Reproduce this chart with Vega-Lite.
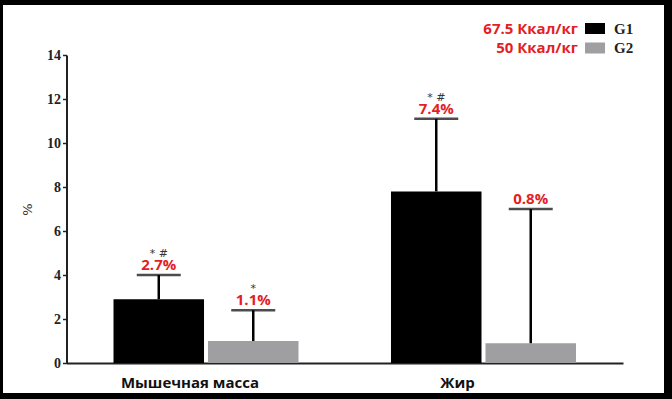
{
  "$schema": "https://vega.github.io/schema/vega-lite/v6.json",
  "width": 661,
  "height": 388,
  "autosize": {"type": "none"},
  "padding": {"left": 3, "top": 5, "right": 8, "bottom": 6},
  "background": "#000000",
  "config": {"view": {"fill": "#ffffff", "stroke": null}},
  "data": {"values": [
    {"cat": "Мышечная масса", "group": "G1", "diet": "67.5 Ккал/кг", "value": 2.9, "upper": 4.0, "label": "2.7%", "sig": "* #"},
    {"cat": "Мышечная масса", "group": "G2", "diet": "50 Ккал/кг", "value": 1.0, "upper": 2.4, "label": "1.1%", "sig": "*"},
    {"cat": "Жир", "group": "G1", "diet": "67.5 Ккал/кг", "value": 7.8, "upper": 11.1, "label": "7.4%", "sig": "* #"},
    {"cat": "Жир", "group": "G2", "diet": "50 Ккал/кг", "value": 0.9, "upper": 7.0, "label": "0.8%", "sig": ""}
  ]},
  "encoding": {
    "x": {
      "field": "cat", "type": "nominal", "sort": ["Мышечная масса", "Жир"],
      "scale": {"range": [63.5, 620], "paddingInner": 0.3333, "paddingOuter": 0.1694, "align": 0.5},
      "axis": {
        "title": null, "orient": "bottom", "offset": -30, "ticks": false, "labelAngle": 0,
        "domainColor": "#222222", "domainWidth": 2,
        "labelFont": "Open Sans", "labelFontWeight": "bold", "labelFontSize": 15, "labelColor": "#111111",
        "labelPadding": 12,
        "labelOffset": {"condition": {"test": "datum.value === 'Жир'", "value": -26}, "value": -16}
      }
    },
    "xOffset": {"field": "group", "type": "nominal", "sort": ["G1", "G2"], "scale": {"paddingInner": 0.042, "paddingOuter": 0}}
  },
  "layer": [
    {
      "mark": {"type": "bar"},
      "encoding": {
        "y": {
          "field": "value", "type": "quantitative",
          "scale": {"domain": [0, 14], "range": [358, 50], "nice": false, "zero": true},
          "axis": {
            "values": [0, 2, 4, 6, 8, 10, 12, 14], "offset": -63.5, "grid": false,
            "domainColor": "#222222", "domainWidth": 2, "tickColor": "#222222", "tickSize": 4, "tickWidth": 1.5,
            "labelFont": "Liberation Serif", "labelFontWeight": "bold", "labelFontSize": 14, "labelColor": "#222222",
            "labelPadding": 2,
            "title": "%", "titleFont": "DejaVu Sans", "titleFontWeight": "normal", "titleFontSize": 13,
            "titleColor": "#333333", "titlePadding": 12
          }
        },
        "color": {
          "field": "group", "type": "nominal",
          "scale": {"domain": ["G1", "G2"], "range": ["#000000", "#9f9fa1"]},
          "legend": {
            "title": null, "orient": "none", "legendX": 582, "legendY": 13.5, "padding": 0,
            "symbolType": "M-1,-0.55H1V0.55H-1Z", "symbolSize": 400, "symbolStrokeWidth": 0,
            "labelFont": "Liberation Serif", "labelFontWeight": "bold", "labelFontSize": 15, "labelColor": "#222222",
            "labelOffset": 9, "rowPadding": 1.5
          }
        },
        "opacity": {
          "field": "diet", "type": "ordinal",
          "scale": {"domain": ["67.5 Ккал/кг", "50 Ккал/кг"], "range": [1, 1]},
          "legend": {
            "title": null, "orient": "none", "legendX": 555, "legendY": 13.5, "padding": 0,
            "symbolType": "M0,0Z", "symbolSize": 400, "symbolStrokeWidth": 0, "symbolFillColor": "#ffffff",
            "labelFont": "Open Sans", "labelFontWeight": "bold", "labelFontSize": 15, "labelColor": "#e31e24",
            "labelAlign": "right", "labelOffset": 0, "rowPadding": 1.5
          }
        }
      }
    },
    {
      "mark": {"type": "rule", "color": "#000000", "strokeWidth": 2.5},
      "encoding": {
        "y": {"field": "value", "type": "quantitative"},
        "y2": {"field": "upper"}
      }
    },
    {
      "mark": {"type": "tick", "color": "#000000", "size": 44, "thickness": 2.5, "orient": "horizontal"},
      "encoding": {
        "y": {"field": "upper", "type": "quantitative"}
      }
    },
    {
      "mark": {"type": "text", "color": "#e31e24", "font": "Open Sans", "fontWeight": "bold", "fontSize": 15, "baseline": "alphabetic", "dy": -5},
      "encoding": {
        "y": {"field": "upper", "type": "quantitative"},
        "text": {"field": "label"}
      }
    },
    {
      "mark": {"type": "text", "color": "#333333", "font": "DejaVu Sans", "fontSize": 11, "baseline": "alphabetic", "dy": -18},
      "encoding": {
        "y": {"field": "upper", "type": "quantitative"},
        "text": {"field": "sig"}
      }
    }
  ]
}
